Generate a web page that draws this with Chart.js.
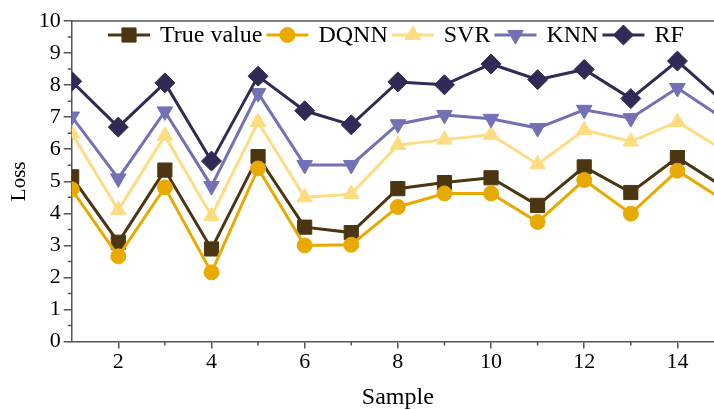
<!DOCTYPE html>
<html>
<head>
<meta charset="utf-8">
<script src="https://cdn.jsdelivr.net/npm/chart.js@4.4.0/dist/chart.umd.min.js"></script>
<style>
  html, body { margin: 0; padding: 0; background: #fff; overflow: hidden; }
  /* the figure runs on past the right edge of the window, like the cropped original */
  #wrap { width: 735px; height: 410px; }
</style>
</head>
<body>
<div id="wrap"><canvas id="lossChart"></canvas></div>
<script>
// ---- DATA ----
const samples   = [1, 2, 3, 4, 5, 6, 7, 8, 9, 10, 11, 12, 13, 14, 15];
const trueValue = [5.14, 3.10, 5.35, 2.89, 5.77, 3.57, 3.40, 4.77, 4.96, 5.11, 4.25, 5.45, 4.65, 5.74, 4.81];
const dqnn      = [4.75, 2.66, 4.81, 2.16, 5.40, 3.00, 3.02, 4.20, 4.62, 4.62, 3.73, 5.04, 3.99, 5.33, 4.40];
const svr       = [6.50, 4.10, 6.42, 3.92, 6.85, 4.50, 4.60, 6.13, 6.30, 6.45, 5.53, 6.60, 6.24, 6.85, 5.96];
const knn       = [7.02, 5.09, 7.18, 4.85, 7.75, 5.51, 5.51, 6.78, 7.07, 6.95, 6.66, 7.23, 6.97, 7.91, 6.94];
const rf        = [8.12, 6.69, 8.07, 5.63, 8.28, 7.20, 6.76, 8.10, 8.01, 8.66, 8.17, 8.49, 7.58, 8.75, 7.46];

const xTicks = [2, 4, 6, 8, 10, 12, 14];
const xMinorTicks = [3, 5, 7, 9, 11, 13];
const yTicks = [0, 1, 2, 3, 4, 5, 6, 7, 8, 9, 10];

const FONT = "'Liberation Serif', 'Times New Roman', serif";
const AXIS_COLOR = "#555";

// ---- helpers ----
function pts(values) {
    return samples.map((s, i) => ({ x: s, y: values[i] }));
}

function series(label, values, color, style, radius, rotation, idx) {
    return {
        label: label,
        data: pts(values),
        borderColor: color,
        backgroundColor: color,
        borderWidth: 3,
        pointStyle: style,
        pointRadius: radius,
        pointRotation: rotation,
        pointBorderWidth: 1,
        pointBackgroundColor: color,
        pointBorderColor: color,
        order: -idx   // later series sit on top
    };
}

// ---- legend drawn inside the plot ----
const insideLegend = {
    id: "insideLegend",
    afterDraw(chart) {
        const ctx = chart.ctx;
        let x = 108;
        const y = 35;
        ctx.save();
        ctx.font = "24px " + FONT;
        ctx.textBaseline = "middle";
        chart.data.datasets.forEach(ds => {
            // line
            ctx.strokeStyle = ds.borderColor;
            ctx.lineWidth = 3;
            ctx.beginPath();
            ctx.moveTo(x, y);
            ctx.lineTo(x + 42, y);
            ctx.stroke();
            // marker
            ctx.fillStyle = ds.pointBackgroundColor;
            ctx.strokeStyle = ds.pointBorderColor;
            ctx.lineWidth = 1;
            Chart.helpers.drawPoint(ctx, {
                pointStyle: ds.pointStyle,
                rotation: ds.pointRotation,
                radius: ds.pointRadius,
                borderWidth: 1
            }, x + 21, y);
            // text
            ctx.fillStyle = "#000";
            ctx.fillText(ds.label, x + 52, y + 1);
            x += 52 + ctx.measureText(ds.label).width + 4;
        });
        ctx.restore();
    }
};

// ---- minor ticks + top frame line ----
const frameExtras = {
    id: "frameExtras",
    afterDraw(chart) {
        const ctx = chart.ctx;
        const area = chart.chartArea;
        const xs = chart.scales.x;
        const ys = chart.scales.y;
        ctx.save();
        ctx.strokeStyle = AXIS_COLOR;
        ctx.lineWidth = 1.5;
        ctx.beginPath();
        // top frame
        ctx.moveTo(area.left, area.top);
        ctx.lineTo(area.right, area.top);
        // y minor ticks
        for (let v = 0.5; v < 10; v += 1) {
            const py = ys.getPixelForValue(v);
            ctx.moveTo(area.left - 4, py);
            ctx.lineTo(area.left, py);
        }
        // x minor ticks
        for (let v of xMinorTicks) {
            const px = xs.getPixelForValue(v);
            ctx.moveTo(px, area.bottom);
            ctx.lineTo(px, area.bottom + 4);
        }
        ctx.stroke();
        ctx.restore();
    }
};

const ctx = document.getElementById("lossChart").getContext("2d");
new Chart(ctx, {
    type: "line",
    data: {
        datasets: [
            series("True value", trueValue, "#4b3611", "rect", 10, 0, 0),
            series("DQNN", dqnn, "#e8aa00", "circle", 7.5, 0, 1),
            series("SVR", svr, "#fedc82", "triangle", 9, 0, 2),
            series("KNN", knn, "#7470b5", "triangle", 9, 180, 3),
            series("RF", rf, "#2f2b55", "rectRot", 10, 0, 4)
        ]
    },
    options: {
        responsive: true,
        maintainAspectRatio: false,
        animation: false,
        layout: { padding: { left: 2.5, right: 0, top: 21, bottom: 0 } },
        plugins: {
            legend: { display: false },
            tooltip: { enabled: false }
        },
        scales: {
            x: {
                type: "linear",
                min: 1,
                max: 15,
                afterBuildTicks: scale => { scale.ticks = xTicks.map(v => ({ value: v })); },
                ticks: { font: { family: FONT, size: 22 }, color: "#000", padding: 0, maxRotation: 0 },
                grid: { drawOnChartArea: false, tickLength: 7, color: AXIS_COLOR, lineWidth: 1.5 },
                border: { color: AXIS_COLOR, width: 1.5 },
                title: {
                    display: true, text: "Sample", color: "#000",
                    font: { family: FONT, size: 24, lineHeight: 1 }, padding: { top: 11, bottom: 0 }
                }
            },
            y: {
                min: 0,
                max: 10,
                afterBuildTicks: scale => { scale.ticks = yTicks.map(v => ({ value: v })); },
                ticks: { font: { family: FONT, size: 22 }, color: "#000", padding: 3 },
                grid: { drawOnChartArea: false, tickLength: 8, color: AXIS_COLOR, lineWidth: 1.5 },
                border: { color: AXIS_COLOR, width: 1.5 },
                title: {
                    display: true, text: "Loss", color: "#000",
                    font: { family: FONT, size: 21 }, padding: { top: 4, bottom: 4 }
                }
            }
        }
    },
    plugins: [insideLegend, frameExtras]
});
</script>
</body>
</html>
